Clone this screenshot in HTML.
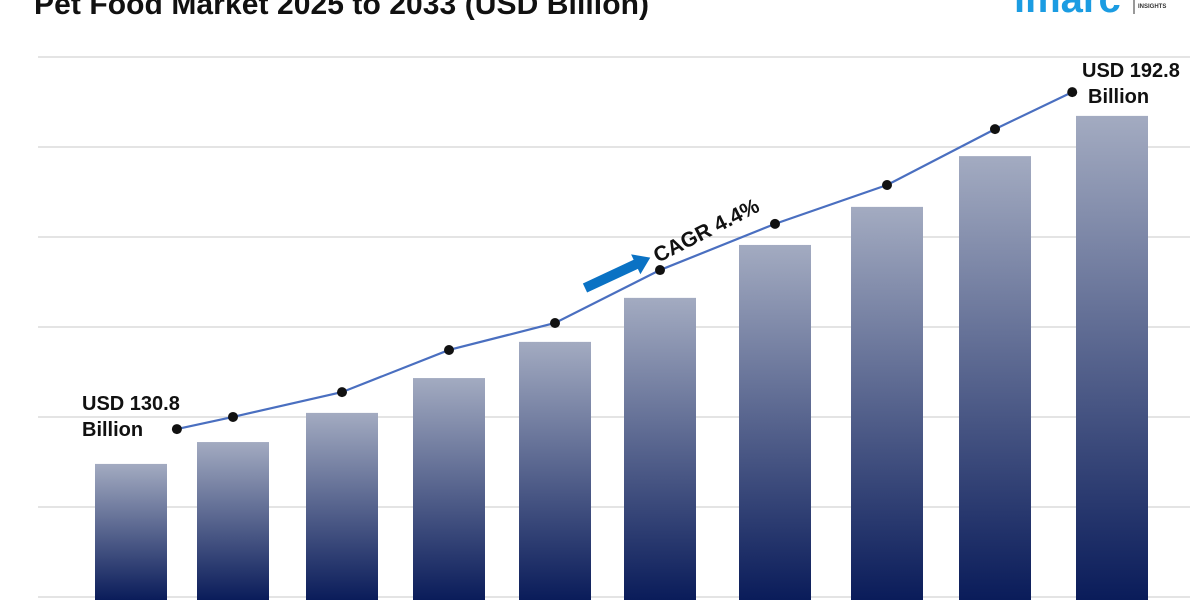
<!DOCTYPE html>
<html><head><meta charset="utf-8"><style>
body{margin:0;background:#fff;width:1200px;height:600px;overflow:hidden;font-family:"Liberation Sans",sans-serif}
</style></head><body>
<svg width="1200" height="600" viewBox="0 0 1200 600">
<defs><linearGradient id="bg" x1="0" y1="0" x2="0" y2="1"><stop offset="0" stop-color="#a3abc1"/><stop offset="1" stop-color="#0a1c5a"/></linearGradient></defs>
<text x="34" y="14" font-size="30" font-weight="bold" fill="#111" textLength="615">Pet Food Market 2025 to 2033 (USD Billion)</text>
<g>
<text x="1014" y="12" font-size="40" fill="#1b9ce2" font-weight="bold">imarc</text>
<line x1="1134" y1="0" x2="1134" y2="14" stroke="#333" stroke-width="1"/>
<text x="1138" y="8" font-size="6" font-weight="bold" fill="#333">INSIGHTS</text>
</g>
<g id="grid"></g><g id="bars"></g><g id="line"></g>
<g>
<g transform="translate(585,288) rotate(-25)"><polygon points="0,-5 56,-5 56,-11 72,0 56,11 56,5 0,5" fill="#0a72c4"/></g>
<text transform="translate(658,263) rotate(-27)" font-size="21" font-weight="bold" fill="#111">CAGR 4.4%</text>
</g>
<text x="82" y="410" font-size="20" font-weight="bold" fill="#111"><tspan x="82">USD 130.8</tspan><tspan x="82" dy="26">Billion</tspan></text>
<text x="1082" y="77" font-size="20" font-weight="bold" fill="#111"><tspan x="1082">USD 192.8</tspan><tspan x="1088" dy="26">Billion</tspan></text>
</svg>
<script>
const categories=["2025","2026","2027","2028","2029","2030","2031","2032","2033","2034"];
const barValues=[50.4,58.5,69.3,82.2,95.6,111.9,131.5,145.6,164.4,179.3];
const lineValues=[63.3,67.8,77,92.6,102.6,122.2,139.3,153.7,174.4,188.1];
const linePositions=[0.45,1,2,3,4,5,6,7,8,8.66];
const gridTicks=[0,1,2,3,4,5,6];
const NS="http://www.w3.org/2000/svg";
const barCenters=[131,233,342,449,555,660,775,887,995,1112];
function x(i){const f=Math.floor(i),r=i-f;const a=barCenters[Math.min(f,9)],b=barCenters[Math.min(f+1,9)];return a+(b-a)*r;}
function y(v){return 600-v*2.7;}
function mk(t,a,p){const e=document.createElementNS(NS,t);for(const k in a)e.setAttribute(k,a[k]);p.appendChild(e);return e;}
const g=document.getElementById('grid');
gridTicks.forEach(t=>{const l=mk('line',{x1:38,x2:1190,y1:57+t*90,y2:57+t*90,stroke:'#d4d4d4','stroke-width':1.2},g);

});
const bg=document.getElementById('bars');
barValues.forEach((v,i)=>{const r=mk('rect',{x:x(i)-36,y:y(v),width:72,height:600-y(v),fill:'url(#bg)'},bg);

});
const lg=document.getElementById('line');
const pts=lineValues.map((v,i)=>x(linePositions[i])+','+y(v)).join(' ');
const pl=mk('polyline',{points:pts,fill:'none',stroke:'#4a6fc0','stroke-width':2.2},lg);


lineValues.forEach((v,i)=>{const c=mk('circle',{cx:x(linePositions[i]),cy:y(v),r:5,fill:'#111'},lg);

});
</script>
</body></html>
